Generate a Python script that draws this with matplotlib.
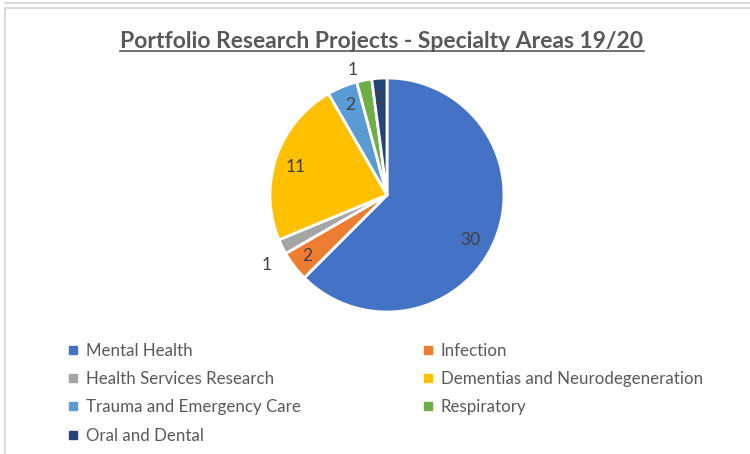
import numpy as np
import matplotlib.pyplot as plt
from matplotlib.lines import Line2D

# specialty areas and project counts
areas = ["Mental Health", "Infection", "Health Services Research",
         "Dementias and Neurodegeneration", "Trauma and Emergency Care",
         "Respiratory", "Oral and Dental"]
counts = [30, 2, 1, 11, 2, 1, 1]
colours = ["#4472C4", "#ED7D31", "#A5A5A5", "#FFC000", "#5B9BD5", "#70AD47", "#264478"]
# where each value label sits: fraction of radius, and turn off the wedge middle (deg)
label_dist = [0.81, 0.86, 1.19, 0.82, 0.83, 1.11, 0.82]
label_turn = [-6, 0, 4, 2, 0, 4, 1]

plt.rcParams['font.family'] = ['Lato', 'DejaVu Sans']

W, H = 750, 454
fig = plt.figure(figsize=(W / 100, H / 100), dpi=100)

# grey frame of the screenshot
fig.add_artist(Line2D([5 / W, 1], [1 - 3 / H, 1 - 3 / H], color="#D9D9D9", lw=1.5))
fig.add_artist(Line2D([5 / W, 1], [1 - 8 / H, 1 - 8 / H], color="#D9D9D9", lw=1.5))
fig.add_artist(Line2D([5 / W, 5 / W], [0, 1 - 8 / H], color="#D9D9D9", lw=1.5))

cx, cy, r = 387, 195, 117
ax = fig.add_axes([(cx - r) / W, (H - cy - r) / H, 2 * r / W, 2 * r / H])
wedges, _ = ax.pie(counts, colors=colours, startangle=90, counterclock=False,
                   wedgeprops=dict(edgecolor="white", linewidth=2))
ax.set_xlim(-1, 1)
ax.set_ylim(-1, 1)

for w, n, d, t in zip(wedges, counts, label_dist, label_turn):
    mid = np.deg2rad((w.theta1 + w.theta2) / 2 + t)
    ax.text(d * np.cos(mid), d * np.sin(mid), str(n), ha="center", va="center",
            fontsize=12.5, color="#404040", clip_on=False)

# title with underline
title = fig.text(382 / W, 1 - 42 / H, "Portfolio Research Projects - Specialty Areas 19/20",
                 ha="center", va="center", fontsize=16.5, color="#595959", fontweight="bold")
fig.canvas.draw()
bb = title.get_window_extent().transformed(fig.transFigure.inverted())
fig.add_artist(Line2D([bb.x0, bb.x1], [bb.y0 + 0.004, bb.y0 + 0.004], color="#595959", lw=1.2))

# legend in two columns, row-major order
def handles(idx):
    return [Line2D([], [], marker="s", ls="", markersize=6, color=colours[i]) for i in idx]

left = [0, 2, 4, 6]
right = [1, 3, 5]
for idx, x in [(left, 68), (right, 423)]:
    leg = fig.legend(handles(idx), [areas[i] for i in idx], loc="upper left",
                     bbox_to_anchor=(x / W, 1 - 343 / H), frameon=False,
                     fontsize=12.2, labelcolor="#595959", handlelength=0.6,
                     handletextpad=0.45, labelspacing=0.72, borderaxespad=0, borderpad=0)

fig.savefig("out.png", dpi=100)
